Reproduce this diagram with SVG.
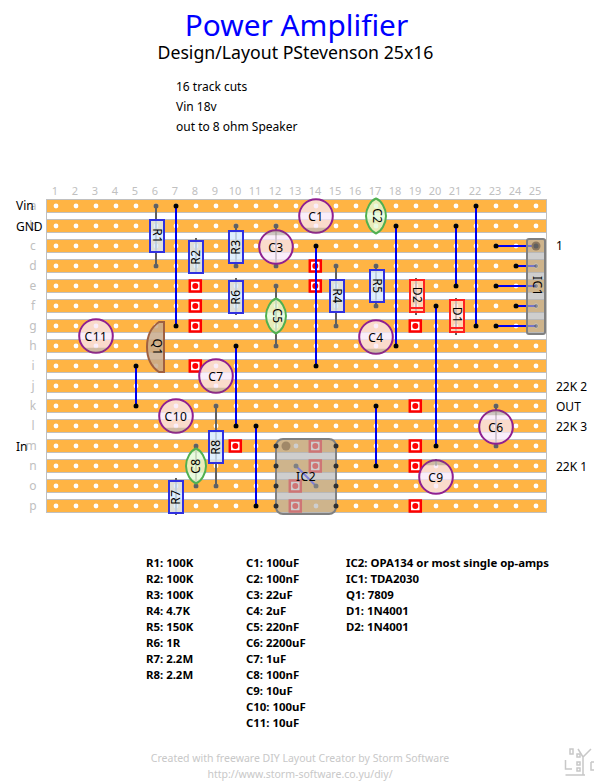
<svg xmlns="http://www.w3.org/2000/svg" width="601" height="783" viewBox="0 0 601 783">
<style>
text{font-family:"Noto Sans","DejaVu Sans",sans-serif;font-size:12px;fill:#000}
.title{font-size:29.8px;fill:#0000ff;text-anchor:middle}
.sub{font-size:17.7px;text-anchor:middle}
.col{font-size:11px;fill:#c0c0c0;text-anchor:middle}
.row{font-size:12px;fill:#c0c0c0;text-anchor:middle}
.list{font-size:11.4px;font-weight:700}
.foot{font-size:10.5px;fill:#c8c8c8;text-anchor:middle}
.lab{text-anchor:middle;font-size:12px;letter-spacing:.5px}
.strip{fill:#ffb444;stroke:#c0c0c0;stroke-width:1}
.wire{stroke:#0000f0;stroke-width:2;fill:none}
.end{fill:#000}
.lead{stroke:#606060;stroke-width:2;fill:none}
.pad{fill:#606060}
.res{fill:rgba(215,235,255,.8);stroke:#3030e0;stroke-width:2}
.dio{fill:rgba(255,225,220,.7);stroke:#ff2020;stroke-width:2}
.elec{fill:rgba(248,232,248,.75);stroke:#902090;stroke-width:2}
.band{fill:rgba(110,110,70,.3)}
.film{fill:rgba(228,250,215,.8);stroke:#50b050;stroke-width:2}
.chip{fill:rgba(180,180,180,.65);stroke:#808080;stroke-width:2}
.cutb{fill:#fff;stroke:#ff0000;stroke-width:2.5}
.cutd{fill:#ff0000}
.pin{fill:#303030}
.logo{stroke:#c8c8c8;stroke-width:1.5;fill:none}
</style>
<defs>
<pattern id="holes" patternUnits="userSpaceOnUse" x="46" y="196" width="20" height="20"><circle cx="10" cy="10" r="2.4" fill="#fff"/></pattern>
<g id="cut"><rect class="cutb" x="-6.2" y="-5.5" width="11" height="11"/><circle class="cutd" cx="-.7" r="3"/></g>
</defs>
<rect width="601" height="783" fill="#fff"/>
<text class="title" x="296.500" y="36">Power Amplifier</text>
<text class="sub" x="295.500" y="59">Design/Layout PStevenson 25x16</text>
<text x="176" y="91">16 track cuts</text>
<text x="176" y="111">Vin 18v</text>
<text x="176" y="131">out to 8 ohm Speaker</text>
<g id="columns">
<text class="col" x="55" y="195">1</text><text class="col" x="75" y="195">2</text><text class="col" x="95" y="195">3</text><text class="col" x="115" y="195">4</text><text class="col" x="135" y="195">5</text><text class="col" x="155" y="195">6</text><text class="col" x="175" y="195">7</text><text class="col" x="195" y="195">8</text><text class="col" x="215" y="195">9</text><text class="col" x="235" y="195">10</text><text class="col" x="255" y="195">11</text><text class="col" x="275" y="195">12</text><text class="col" x="295" y="195">13</text><text class="col" x="315" y="195">14</text><text class="col" x="335" y="195">15</text><text class="col" x="355" y="195">16</text><text class="col" x="375" y="195">17</text><text class="col" x="395" y="195">18</text><text class="col" x="415" y="195">19</text><text class="col" x="435" y="195">20</text><text class="col" x="455" y="195">21</text><text class="col" x="475" y="195">22</text><text class="col" x="495" y="195">23</text><text class="col" x="515" y="195">24</text><text class="col" x="535" y="195">25</text>
</g>
<g id="rows">
<text class="row" x="33" y="210">a</text><text class="row" x="33" y="230">b</text><text class="row" x="33" y="250">c</text><text class="row" x="33" y="270">d</text><text class="row" x="33" y="290">e</text><text class="row" x="33" y="310">f</text><text class="row" x="33" y="330">g</text><text class="row" x="33" y="350">h</text><text class="row" x="33" y="370">i</text><text class="row" x="33" y="390">j</text><text class="row" x="33" y="410">k</text><text class="row" x="33" y="430">l</text><text class="row" x="31" y="450">m</text><text class="row" x="33" y="470">n</text><text class="row" x="33" y="490">o</text><text class="row" x="33" y="510">p</text>
</g>
<text x="16" y="210">Vin</text>
<text x="16" y="231">GND</text>
<text x="16" y="451">In</text>
<text x="556" y="250">1</text>
<text x="556" y="391">22K 2</text>
<text x="556" y="411">OUT</text>
<text x="556" y="431">22K 3</text>
<text x="556" y="471">22K 1</text>
<g id="board">
<rect x="46.500" y="199.500" width="500" height="313" fill="#fff" stroke="#c0c0c0"/>
<rect class="strip" x="46.500" y="199.500" width="500" height="13"/><rect class="strip" x="46.500" y="219.500" width="500" height="13"/><rect class="strip" x="46.500" y="239.500" width="500" height="13"/><rect class="strip" x="46.500" y="259.500" width="500" height="13"/><rect class="strip" x="46.500" y="279.500" width="500" height="13"/><rect class="strip" x="46.500" y="299.500" width="500" height="13"/><rect class="strip" x="46.500" y="319.500" width="500" height="13"/><rect class="strip" x="46.500" y="339.500" width="500" height="13"/><rect class="strip" x="46.500" y="359.500" width="500" height="13"/><rect class="strip" x="46.500" y="379.500" width="500" height="13"/><rect class="strip" x="46.500" y="399.500" width="500" height="13"/><rect class="strip" x="46.500" y="419.500" width="500" height="13"/><rect class="strip" x="46.500" y="439.500" width="500" height="13"/><rect class="strip" x="46.500" y="459.500" width="500" height="13"/><rect class="strip" x="46.500" y="479.500" width="500" height="13"/><rect class="strip" x="46.500" y="499.500" width="500" height="13"/>
<rect x="46" y="196" width="500" height="320" fill="url(#holes)"/>
</g>
<g id="track-cuts">
<use href="#cut" x="196" y="286"/><use href="#cut" x="196" y="306"/><use href="#cut" x="196" y="326"/><use href="#cut" x="196" y="366"/><use href="#cut" x="236" y="446"/><use href="#cut" x="316" y="266"/><use href="#cut" x="316" y="286"/><use href="#cut" x="416" y="326"/><use href="#cut" x="416" y="406"/><use href="#cut" x="416" y="446"/><use href="#cut" x="416" y="466"/><use href="#cut" x="416" y="506"/><use href="#cut" x="316" y="446"/><use href="#cut" x="316" y="466"/><use href="#cut" x="296" y="486"/><use href="#cut" x="296" y="506"/>
</g>
<g id="connectors">
<path class="wire" d="M176 206V326M316 246V366M396 226V346M456 226V286M476 206V326M436 306V446M496 246H536M516 266H536M496 286H536M516 306H536M496 326H536M136 366V406M236 346V426M256 426V506M376 406V466"/>
<g class="end">
<circle cx="176" cy="206" r="2.500"/><circle cx="176" cy="326" r="2.500"/><circle cx="316" cy="246" r="2.500"/><circle cx="316" cy="366" r="2.500"/><circle cx="396" cy="226" r="2.500"/><circle cx="396" cy="346" r="2.500"/><circle cx="456" cy="226" r="2.500"/><circle cx="456" cy="286" r="2.500"/><circle cx="476" cy="206" r="2.500"/><circle cx="476" cy="326" r="2.500"/><circle cx="436" cy="306" r="2.500"/><circle cx="436" cy="446" r="2.500"/><circle cx="496" cy="246" r="2.500"/><circle cx="516" cy="266" r="2.500"/><circle cx="496" cy="286" r="2.500"/><circle cx="516" cy="306" r="2.500"/><circle cx="496" cy="326" r="2.500"/><circle cx="136" cy="366" r="2.500"/><circle cx="136" cy="406" r="2.500"/><circle cx="236" cy="346" r="2.500"/><circle cx="236" cy="426" r="2.500"/><circle cx="256" cy="426" r="2.500"/><circle cx="256" cy="506" r="2.500"/><circle cx="376" cy="406" r="2.500"/><circle cx="376" cy="466" r="2.500"/>
</g>
</g>
<g id="R1"><path class="lead" d="M156 206V266"/><circle class="pad" cx="156" cy="206" r="2.500"/><circle class="pad" cx="156" cy="266" r="2.500"/><rect class="res" x="150" y="220" width="14" height="32"/><text class="lab" transform="translate(153 236) rotate(90)">R1</text></g>
<g id="R2"><path class="lead" d="M196 238V274"/><rect class="res" x="189" y="241" width="14" height="32"/><text class="lab" transform="translate(200 257) rotate(-90)">R2</text></g>
<g id="R3"><path class="lead" d="M236 226V266"/><circle class="pad" cx="236" cy="226" r="2.500"/><circle class="pad" cx="236" cy="266" r="2.500"/><rect class="res" x="229" y="231" width="14" height="32"/><text class="lab" transform="translate(240 247) rotate(-90)">R3</text></g>
<g id="R6"><path class="lead" d="M236 278V315"/><rect class="res" x="229" y="281" width="14" height="32"/><text class="lab" transform="translate(240 297) rotate(-90)">R6</text></g>
<g id="R4"><path class="lead" d="M336 266V326"/><circle class="pad" cx="336" cy="266" r="2.500"/><circle class="pad" cx="336" cy="326" r="2.500"/><rect class="res" x="330" y="280" width="14" height="32"/><text class="lab" transform="translate(333 296) rotate(90)">R4</text></g>
<g id="R5"><path class="lead" d="M376 266V306"/><circle class="pad" cx="376" cy="266" r="2.500"/><circle class="pad" cx="376" cy="306" r="2.500"/><rect class="res" x="370" y="270" width="14" height="32"/><text class="lab" transform="translate(373 286) rotate(90)">R5</text></g>
<g id="R7"><path class="lead" d="M176 478V515"/><rect class="res" x="169" y="481" width="14" height="32"/><text class="lab" transform="translate(180 497) rotate(-90)">R7</text></g>
<g id="R8"><path class="lead" d="M216 406V486"/><circle class="pad" cx="216" cy="406" r="2.500"/><circle class="pad" cx="216" cy="486" r="2.500"/><rect class="res" x="209" y="431" width="14" height="32"/><text class="lab" transform="translate(220 447) rotate(-90)">R8</text></g>
<g id="D2"><path class="lead" d="M416 278V315"/><rect class="dio" x="410" y="280" width="14" height="32"/><path class="dio" d="M410 308H424"/><text class="lab" transform="translate(413 295) rotate(90)">D2</text></g>
<g id="D1"><path class="lead" d="M456 298V335"/><rect class="dio" x="450" y="300" width="14" height="32"/><path class="dio" d="M450 328H464"/><text class="lab" transform="translate(453 315) rotate(90)">D1</text></g>
<g id="C1"><circle class="elec" cx="316" cy="216" r="16.800"/><path class="band" d="M304 227.700A16.800 16.800 0 0 0 328 227.700Z"/><text class="lab" x="316" y="220.500">C1</text></g>
<g id="C3"><circle class="pad" cx="276" cy="226" r="2.500"/><circle class="pad" cx="276" cy="266" r="2.500"/><path class="lead" d="M276 226V266"/><circle class="elec" cx="276" cy="247" r="16.800"/><path class="band" d="M264 235.300A16.800 16.800 0 0 1 288 235.300Z"/><text class="lab" x="276" y="251.500">C3</text></g>
<g id="C4"><circle class="elec" cx="376" cy="337" r="16.800"/><path class="band" d="M364 348.700A16.800 16.800 0 0 0 388 348.700Z"/><text class="lab" x="376" y="341.500">C4</text></g>
<g id="C6"><path class="lead" d="M496 406V446"/><circle class="pad" cx="496" cy="406" r="2.500"/><circle class="pad" cx="496" cy="446" r="2.500"/><circle class="elec" cx="496" cy="427" r="16.800"/><path class="band" d="M484 415.300A16.800 16.800 0 0 1 508 415.300Z"/><text class="lab" x="496" y="431.500">C6</text></g>
<g id="C7"><circle class="elec" cx="216" cy="376" r="16.800"/><path class="band" d="M204 387.700A16.800 16.800 0 0 0 228 387.700Z"/><text class="lab" x="216" y="380.500">C7</text></g>
<g id="C9"><path class="lead" d="M436 459V466"/><circle class="elec" cx="436" cy="477" r="16.800"/><path class="band" d="M424 465.300A16.800 16.800 0 0 1 448 465.300Z"/><text class="lab" x="436" y="481.500">C9</text></g>
<g id="C10"><circle class="elec" cx="176" cy="416" r="16.800"/><path class="band" d="M164 427.700A16.800 16.800 0 0 0 188 427.700Z"/><text class="lab" x="176" y="420.500">C10</text></g>
<g id="C11"><circle class="elec" cx="96" cy="336" r="16.800"/><path class="band" d="M84 347.700A16.800 16.800 0 0 0 108 347.700Z"/><text class="lab" x="96" y="340.500">C11</text></g>
<g id="C2"><path class="film" d="M376 198.500C381 200.500 386 208 386 216C386 224 381 231.500 376 233.500C371 231.500 366 224 366 216C366 208 371 200.500 376 198.500Z"/><text class="lab" transform="translate(372.500 216) rotate(90)">C2</text></g>
<g id="C5"><path class="lead" d="M276 286V346"/><circle class="pad" cx="276" cy="286" r="2.500"/><circle class="pad" cx="276" cy="346" r="2.500"/><path class="film" d="M276 298.500C281 300.500 286 308 286 316C286 324 281 331.500 276 333.500C271 331.500 266 324 266 316C266 308 271 300.500 276 298.500Z"/><text class="lab" transform="translate(272.500 316) rotate(90)">C5</text></g>
<g id="C8"><path class="lead" d="M196 446V486"/><circle class="pad" cx="196" cy="446" r="2.500"/><circle class="pad" cx="196" cy="486" r="2.500"/><path class="film" d="M196 448.500C201 450.500 206 458 206 466C206 474 201 481.500 196 483.500C191 481.500 186 474 186 466C186 458 191 450.500 196 448.500Z"/><text class="lab" transform="translate(200 466) rotate(-90)">C8</text></g>
<g id="Q1"><path d="M164 322H159Q147 330 147 347Q147 364 159 372H164Z" fill="rgba(200,170,140,.85)" stroke="#a06040" stroke-width="2"/><text class="lab" transform="translate(152.500 347) rotate(90)">Q1</text></g>
<g id="IC1"><rect class="chip" x="527" y="239" width="18" height="95" rx="2"/><circle cx="536" cy="246" r="4.500" fill="#8c7860"/><circle cx="536" cy="246" r="2.500" class="pad"/><circle class="pad" cx="536" cy="266" r="2" opacity=".6"/><circle class="pad" cx="536" cy="286" r="2" opacity=".6"/><circle class="pad" cx="536" cy="306" r="2" opacity=".6"/><circle class="pad" cx="536" cy="326" r="2" opacity=".6"/><text class="lab" transform="translate(532.500 286) rotate(90)">IC1</text></g>
<g id="IC2"><rect class="chip" x="276" y="439" width="60" height="75" rx="7"/><path d="M296 466L316 486" stroke="#8080d8" stroke-width="2"/><circle cx="296" cy="466" r="2.500" fill="#808080"/><circle cx="316" cy="486" r="2.500" fill="#808080"/><circle cx="286" cy="446" r="4.500" fill="#a08868"/><circle class="pin" cx="276" cy="446" r="2.500"/><circle class="pin" cx="276" cy="466" r="2.500"/><circle class="pin" cx="276" cy="486" r="2.500"/><circle class="pin" cx="276" cy="506" r="2.500"/><circle class="pin" cx="336" cy="446" r="2.500"/><circle class="pin" cx="336" cy="466" r="2.500"/><circle class="pin" cx="336" cy="486" r="2.500"/><circle class="pin" cx="336" cy="506" r="2.500"/><text class="lab" x="306" y="480.500">IC2</text></g>
<g id="parts-r">
<text class="list" x="146" y="567">R1: 100K</text><text class="list" x="146" y="583">R2: 100K</text><text class="list" x="146" y="599">R3: 100K</text><text class="list" x="146" y="615">R4: 4.7K</text><text class="list" x="146" y="631">R5: 150K</text><text class="list" x="146" y="647">R6: 1R</text><text class="list" x="146" y="663">R7: 2.2M</text><text class="list" x="146" y="679">R8: 2.2M</text>
</g>
<g id="parts-c">
<text class="list" x="246" y="567">C1: 100uF</text><text class="list" x="246" y="583">C2: 100nF</text><text class="list" x="246" y="599">C3: 22uF</text><text class="list" x="246" y="615">C4: 2uF</text><text class="list" x="246" y="631">C5: 220nF</text><text class="list" x="246" y="647">C6: 2200uF</text><text class="list" x="246" y="663">C7: 1uF</text><text class="list" x="246" y="679">C8: 100nF</text><text class="list" x="246" y="695">C9: 10uF</text><text class="list" x="246" y="711">C10: 100uF</text><text class="list" x="246" y="727">C11: 10uF</text>
</g>
<g id="parts-ic">
<text class="list" x="346" y="567">IC2: OPA134 or most single op-amps</text><text class="list" x="346" y="583">IC1: TDA2030</text><text class="list" x="346" y="599">Q1: 7809</text><text class="list" x="346" y="615">D1: 1N4001</text><text class="list" x="346" y="631">D2: 1N4001</text>
</g>
<text class="foot" x="300" y="762">Created with freeware DIY Layout Creator by Storm Software</text>
<text class="foot" x="300" y="778">http://www.storm-software.co.yu/diy/</text>
<g id="logo"><path class="logo" d="M565.500 775H585M583 757V775M578 749L583 757L591 749M565.500 760V769H572M591 762H594M591 762V770H594"/><rect class="logo" x="570" y="749" width="3" height="5"/><rect class="logo" x="577" y="754" width="3" height="3"/><rect class="logo" x="577" y="762" width="3" height="3"/><rect class="logo" x="577" y="768" width="3" height="3"/></g>
</svg>
